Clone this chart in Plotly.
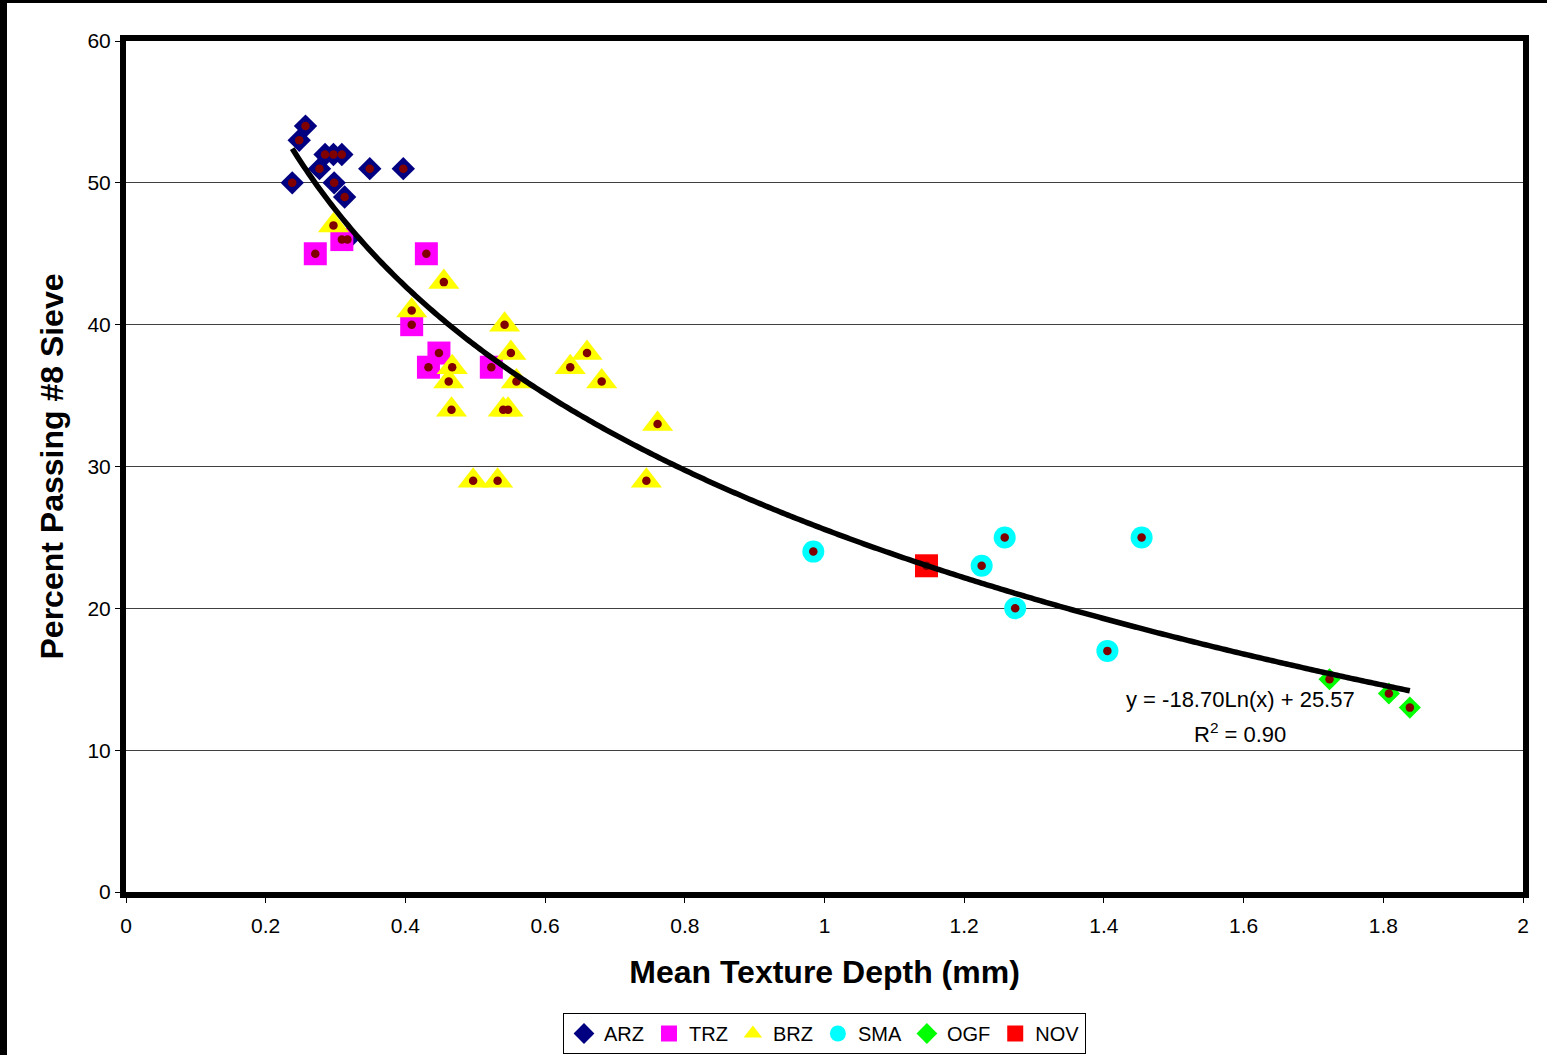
import numpy as np
import plotly.graph_objects as go

# ---- data ----
ARZ_x = [0.257, 0.248, 0.285, 0.297, 0.309, 0.277, 0.349, 0.397, 0.238, 0.298, 0.313, 0.317]
ARZ_y = [54, 53, 52, 52, 52, 51, 51, 51, 50, 50, 49, 46]

TRZ_x = [0.309, 0.271, 0.430, 0.409, 0.448, 0.433, 0.523]
TRZ_y = [46, 45, 45, 40, 38, 37, 37]

BRZ_x = [0.297, 0.455, 0.409, 0.467, 0.462, 0.542, 0.551, 0.559, 0.636, 0.660,
         0.681, 0.466, 0.540, 0.547, 0.761, 0.497, 0.532, 0.745]
BRZ_y = [47, 43, 41, 37, 36, 40, 38, 36, 37, 38, 36, 34, 34, 34, 33, 29, 29, 29]

SMA_x = [0.984, 1.225, 1.258, 1.454, 1.273, 1.405]
SMA_y = [24, 23, 25, 25, 20, 17]

OGF_x = [1.723, 1.808, 1.838]
OGF_y = [15, 14, 13]

NOV_x = [1.146]
NOV_y = [23]

# trendline coefficients as printed on the chart
TREND_A = -18.70
TREND_B = 25.57
EQ_TEXT = "y = -18.70Ln(x) + 25.57"
R2_TEXT = "R<sup>2</sup> = 0.90"

FONT = "Liberation Sans, Arial, sans-serif"

series = [
    ("ARZ", ARZ_x, ARZ_y, "diamond", "#000080", 18),
    ("TRZ", TRZ_x, TRZ_y, "square", "#FF00FF", 23),
    ("BRZ", BRZ_x, BRZ_y, "triangle-up", "#FFFF00", 27),
    ("SMA", SMA_x, SMA_y, "circle", "#00FFFF", 22),
    ("OGF", OGF_x, OGF_y, "diamond", "#00FF00", 17),
    ("NOV", NOV_x, NOV_y, "square", "#FF0000", 23),
]

fig = go.Figure()
for name, xs, ys, sym, col, sz in series:
    fig.add_trace(go.Scatter(
        x=xs, y=ys, mode="markers", name=name,
        marker=dict(symbol=sym, color=col, size=sz, line=dict(width=0)),
    ))

all_x = ARZ_x + TRZ_x + BRZ_x + SMA_x + OGF_x + NOV_x
all_y = ARZ_y + TRZ_y + BRZ_y + SMA_y + OGF_y + NOV_y
fig.add_trace(go.Scatter(
    x=all_x, y=all_y, mode="markers", showlegend=False, hoverinfo="skip",
    marker=dict(symbol="circle", color="#800000", size=8.5, line=dict(width=0)),
))

tx = np.linspace(min(all_x), max(all_x), 400)
ty = TREND_A * np.log(tx) + TREND_B
fig.add_trace(go.Scatter(
    x=tx, y=ty, mode="lines", showlegend=False, hoverinfo="skip",
    line=dict(color="black", width=5.5, simplify=False),
))

W, H = 1397, 851
ML, MR, MT, MB = 126, 24, 41, 163
FIG_W, FIG_H = 1547, 1055

fig.update_layout(
    width=FIG_W, height=FIG_H,
    margin=dict(l=ML, r=MR, t=MT, b=MB, pad=0, autoexpand=False),
    paper_bgcolor="white", plot_bgcolor="white",
    font=dict(family=FONT, color="black", size=21),
    showlegend=True,
    legend=dict(
        orientation="h", xref="container", yref="container",
        x=(ML + W / 2) / FIG_W, xanchor="center",
        y=(FIG_H - 1013) / FIG_H, yanchor="top",
        bordercolor="black", borderwidth=1, font=dict(size=20, family=FONT),
        tracegroupgap=0, itemwidth=30,
    ),
    xaxis=dict(
        range=[0, 2], dtick=0.2, tick0=0,
        showline=True, linewidth=6, linecolor="black", mirror=True,
        showgrid=False, zeroline=False,
        ticks="outside", ticklen=5, tickwidth=1, tickcolor="black",
        ticklabelstandoff=5,
        tickfont=dict(size=21, family=FONT),
        title=dict(text="<b>Mean Texture Depth (mm)</b>",
                   font=dict(size=32, family=FONT), standoff=26),
    ),
    yaxis=dict(
        range=[0, 60], dtick=10, tick0=0,
        showline=True, linewidth=6, linecolor="black", mirror=True,
        showgrid=True, gridcolor="#404040", gridwidth=1, zeroline=False,
        ticks="outside", ticklen=5, tickwidth=1, tickcolor="black",
        tickfont=dict(size=21, family=FONT),
        title=dict(text="<b>Percent Passing #8 Sieve</b>",
                   font=dict(size=32, family=FONT), standoff=16),
    ),
    annotations=[
        dict(x=1.595, y=13.54, xref="x", yref="y", text=EQ_TEXT, showarrow=False,
             font=dict(size=22, family=FONT), xanchor="center", yanchor="middle"),
        dict(x=1.595, y=11.21, xref="x", yref="y", text=R2_TEXT, showarrow=False,
             font=dict(size=22, family=FONT), xanchor="center", yanchor="middle"),
    ],
    shapes=[
        dict(type="rect", xref="paper", yref="paper", layer="above",
             x0=-ML / W, x1=-(ML - 7) / W, y0=-MB / H, y1=1 + MT / H,
             fillcolor="black", line=dict(width=0)),
        dict(type="rect", xref="paper", yref="paper", layer="above",
             x0=-ML / W, x1=1 + MR / W, y0=1 + (MT - 3) / H, y1=1 + MT / H,
             fillcolor="black", line=dict(width=0)),
    ],
)

fig.write_html("out.html")
